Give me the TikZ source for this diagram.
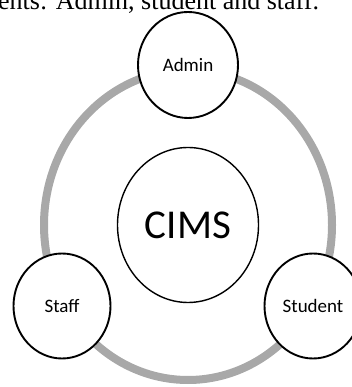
\documentclass[tikz,border=0pt]{standalone}
\usepackage{fontspec}
\setmainfont{Liberation Serif}
\newfontfamily\labelfont{Carlito}
\usetikzlibrary{shapes.geometric}

\begin{document}
\begin{tikzpicture}[x=1pt, y=1pt,
  every node/.style={font=\labelfont\fontsize{19}{21}\selectfont},
  member/.style={ellipse, draw, line width=1.9pt, fill=white, minimum width=97pt, minimum height=105pt, inner sep=0pt},
  hub/.style={ellipse, draw, line width=1.4pt, fill=white, minimum width=141pt, minimum height=155pt, inner sep=0pt, font=\labelfont\fontsize{41}{44}\selectfont},
  ring/.style={draw=black!34, line width=8pt}]
\useasboundingbox (0,0) rectangle (352,387);
\node[anchor=base west, inner sep=0pt, font=\fontsize{26}{30}\selectfont] (caption) at (-2,377) {ents: Admin, student and staff.};
\draw[ring] (188,162) ellipse [x radius=144pt, y radius=155pt];
\node[hub] (cims) at (188,162) {CIMS};
\node[member, minimum width=100pt, minimum height=106pt] (admin) at (188,322) {Admin};
\node[member] (staff) at (62,81) {Staff};
\node[member] (student) at (313,81) {Student};
\end{tikzpicture}
\end{document}
